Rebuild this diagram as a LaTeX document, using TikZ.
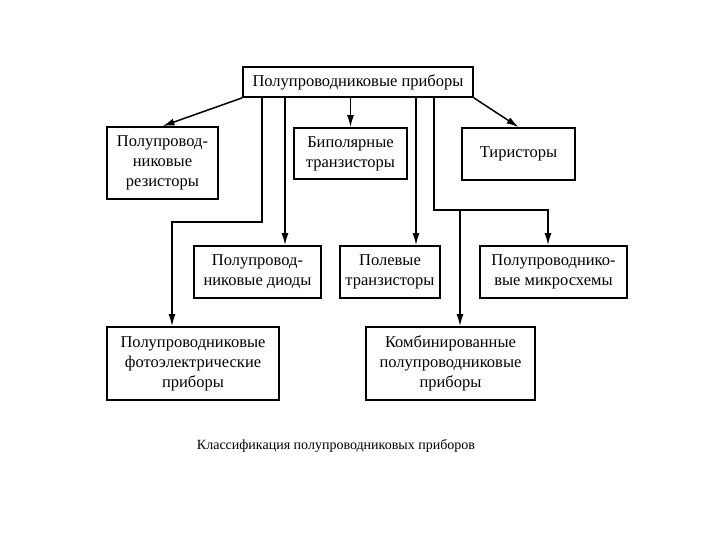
\documentclass[tikz,border=0pt]{standalone}
\usepackage{fontspec}
\setmainfont{Liberation Serif}
\usetikzlibrary{arrows.meta}

\tikzset{every picture/.style={line width=1pt}}
\tikzset{
  box/.style={draw, line width=1.8pt, align=center, inner sep=2pt, font=\fontsize{16.5}{20}\selectfont},
  arr/.style={-{Latex[length=12pt,width=7pt]}, line width=1.5pt}
}

\begin{document}
\begin{tikzpicture}[x=1pt,y=1pt,yscale=-1,xscale=1]
\useasboundingbox (0,0) rectangle (720,540);

% Boxes
\node [box, minimum width=230, minimum height=30] (main) at (358,82) {Полупроводниковые приборы};
\node [box, minimum width=111, minimum height=72] (resist) at (162.5,163) {Полупровод-\\никовые\\резисторы};
\node [box, minimum width=113, minimum height=51] (bipolar) at (350.5,153.5) {Биполярные\\транзисторы};
\node [box, minimum width=113, minimum height=52] (thyr) at (518.5,154) {Тиристоры};
\node [box, minimum width=127, minimum height=52] (diodes) at (257.5,272) {Полупровод-\\никовые диоды};
\node [box, minimum width=100, minimum height=52] (field) at (390,272) {Полевые\\транзисторы};
\node [box, minimum width=147, minimum height=52] (micro) at (553.5,272) {Полупроводнико-\\вые микросхемы};
\node [box, minimum width=172, minimum height=73] (photo) at (193,363.5) {Полупроводниковые\\фотоэлектрические\\приборы};
\node [box, minimum width=169, minimum height=73] (comb) at (450.5,363.5) {Комбинированные\\полупроводниковые\\приборы};

% Bends
\coordinate (bendL) at (262,222);
\coordinate (bendR) at (434,210);

% Connectors
\draw [arr] (main.south west) -- (resist.north);
\draw [arr] (bipolar.north |- main.south) -- (bipolar.north);
\draw [arr] (main.south east) -- (thyr.north);
\draw [arr] (main.south -| bendL) -- (bendL) -| ([xshift=-21]photo.north);
\draw [arr] (main.south -| 285,0) -- ([xshift=27.5]diodes.north);
\draw [arr] (main.south -| 416,0) -- ([xshift=26]field.north);
\draw [arr] (main.south -| bendR) -- (bendR) -| ([xshift=-5.5]micro.north);
\draw [arr] (460,210) -- ([xshift=9.5]comb.north);

% Caption
\node [font=\fontsize{14}{16}\selectfont] (caption) at (336,446) {Классификация полупроводниковых приборов};

\end{tikzpicture}
\end{document}
